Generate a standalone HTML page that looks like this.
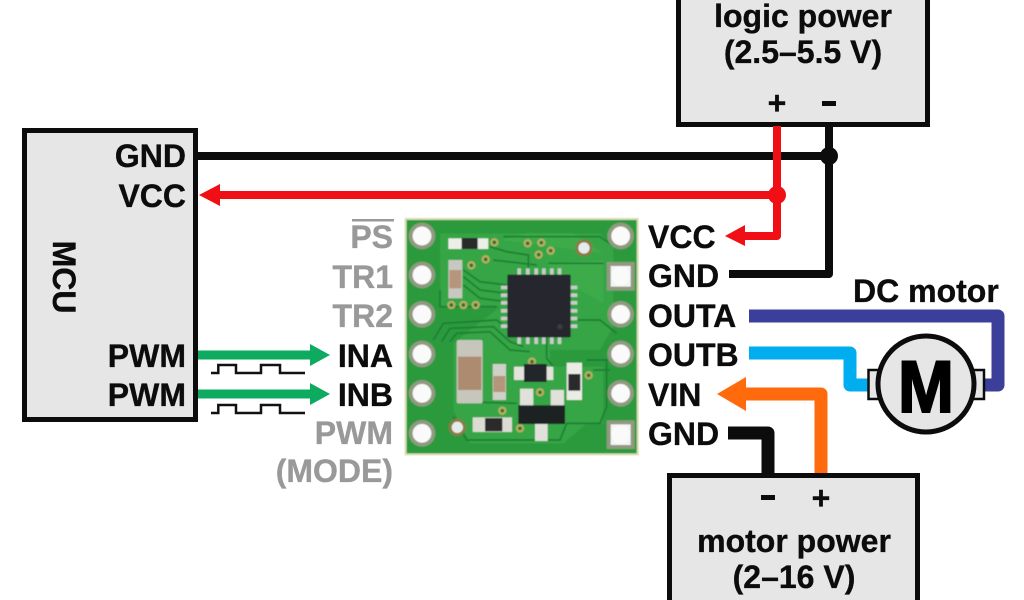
<!DOCTYPE html>
<html><head><meta charset="utf-8"><style>
html,body{margin:0;padding:0;background:#fff}
svg{display:block}
text{font-family:"Liberation Sans",sans-serif;font-weight:bold;font-size:32px;fill:#0c0c0c;stroke:#0c0c0c;stroke-width:.35px}
.g{fill:#999;stroke:#999}
.r{text-anchor:end}
.m{text-anchor:middle}
</style></head><body>
<svg width="1024" height="600" viewBox="0 0 1024 600" xmlns="http://www.w3.org/2000/svg">
<defs><filter id="b" x="-5%" y="-5%" width="110%" height="110%"><feGaussianBlur stdDeviation="1.6"/></filter></defs>
<!-- boxes -->
<rect x="24.5" y="130.5" width="171" height="289" fill="#e6e6e6" stroke="#0c0c0c" stroke-width="5"/>
<rect x="678.5" y="-20" width="249" height="144.500" fill="#e6e6e6" stroke="#0c0c0c" stroke-width="5"/>
<rect x="669.5" y="475.500" width="248" height="150" fill="#e6e6e6" stroke="#0c0c0c" stroke-width="5"/>
<!-- wires -->
<g fill="none" stroke-linejoin="round">
<path d="M198 156H829" stroke="#0c0c0c" stroke-width="8"/>
<path d="M829 126V274H729" stroke="#0c0c0c" stroke-width="8"/>
<path d="M218 195H777" stroke="#f00f14" stroke-width="8"/>
<path d="M777 126V236H743" stroke="#f00f14" stroke-width="8"/>
<path d="M198 355H312M198 394H312" stroke="#0cab60" stroke-width="9"/>
<path d="M749 316H998V385H983" stroke="#3b3f9a" stroke-width="13"/>
<path d="M749 353H850V385H868" stroke="#00aeef" stroke-width="13"/>
<path d="M743 394H821V473" stroke="#ff6a0d" stroke-width="13"/>
<path d="M728 433H768V473" stroke="#0c0c0c" stroke-width="13"/>
<path d="M211 373H218.300V365H236V373H261V365H280V373H305M211 413H218.300V405H236V413H261V405H280V413H305" stroke="#111" stroke-width="2.500" stroke-linejoin="miter"/>
</g>
<circle cx="829" cy="156" r="9" fill="#0c0c0c"/>
<circle cx="777" cy="195" r="9" fill="#f00f14"/>
<path d="M199 195L220 184V206Z" fill="#f00f14"/>
<path d="M725 236L745 225V246Z" fill="#f00f14"/>
<path d="M330 355L310 344V366Z M330 394L310 383V405Z" fill="#0cab60"/>
<path d="M717 394L746 377V411Z" fill="#ff6a0d"/>
<!-- motor -->
<rect x="868.500" y="370" width="14" height="29" fill="#e6e6e6" stroke="#0c0c0c" stroke-width="2.500"/>
<rect x="970" y="370" width="14" height="29" fill="#e6e6e6" stroke="#0c0c0c" stroke-width="2.500"/>
<circle cx="926" cy="384" r="48" fill="#e6e6e6" stroke="#0c0c0c" stroke-width="5"/>
<text transform="translate(926 412) scale(.92 1)" class="m" style="font-size:73px;fill:#000;stroke:#000;stroke-width:2px">M</text>
<!-- labels -->
<text x="186" y="167" class="r">GND</text>
<text x="186" y="207" class="r">VCC</text>
<text x="186" y="367" class="r">PWM</text>
<text x="186" y="406" class="r">PWM</text>
<text transform="translate(53 277) rotate(90)" class="m">MCU</text>
<text x="393" y="248" class="r g">PS</text>
<rect x="352" y="219" width="42" height="2.500" fill="#999"/>
<text x="393" y="288" class="r g">TR1</text>
<text x="393" y="327" class="r g">TR2</text>
<text x="393" y="367" class="r">INA</text>
<text x="393" y="406" class="r">INB</text>
<text x="393" y="444" class="r g">PWM</text>
<text x="393" y="482" class="r g">(MODE)</text>
<text x="648" y="248">VCC</text>
<text x="648" y="287">GND</text>
<text x="648" y="327">OUTA</text>
<text x="648" y="366">OUTB</text>
<text x="648" y="406">VIN</text>
<text x="648" y="445">GND</text>
<text x="853" y="302">DC motor</text>
<text x="803" y="27" class="m">logic power</text>
<text x="803" y="63" class="m">(2.5–5.5 V)</text>
<text x="777" y="114" class="m">+</text>
<rect x="822" y="101" width="14" height="5" fill="#0c0c0c"/>
<text x="794" y="552" class="m">motor power</text>
<text x="794" y="588" class="m">(2–16 V)</text>
<text x="821" y="509" class="m">+</text>
<rect x="761" y="495" width="14" height="5" fill="#0c0c0c"/>
<!-- board -->
<g transform="translate(400 210) scale(.33333)" filter="url(#b)">
<rect x="14" y="24" width="702" height="712" fill="#d8dcb4"/>
<rect x="20" y="30" width="690" height="700" fill="#2c9a3d"/>
<path d="M120 70H600L640 110V350L600 420H450V470H610V640H560L490 700H210L160 600V400L300 290H120Z" fill="#36a545"/>
<path d="M440 160L610 150V280L520 230ZM300 90L380 70H520L610 130" fill="#3cab4a"/>
<g fill="none" stroke="#1a7f33" stroke-width="5">
<path d="M190 180L240 215L320 225M190 200L240 240L320 250M190 225L240 265L320 275"/>
<path d="M100 390L130 340L290 330L340 370M125 395L150 355L280 350L330 395L370 410M150 395L170 370L270 365L330 420L390 425"/>
<path d="M270 110L320 125L385 135V190M280 150L410 165M310 80H600L650 115"/>
<path d="M440 380V445L460 470M530 330H600L650 370M445 160H610M180 575L350 580M580 480H630"/>
<path d="M560 450H620V590L600 640H500L480 690H200L160 620"/>
<path d="M120 240V290H290"/>
</g>
<!-- holes -->
<g fill="#f4f4f4" stroke="#8f9a80" stroke-width="12">
<circle cx="66" cy="78" r="34"/><circle cx="66" cy="195" r="34"/><circle cx="66" cy="313" r="34"/><circle cx="66" cy="432" r="34"/><circle cx="66" cy="550" r="34"/><circle cx="66" cy="670" r="34"/>
<circle cx="662" cy="78" r="34"/><circle cx="662" cy="313" r="34"/><circle cx="662" cy="432" r="34"/><circle cx="662" cy="550" r="34"/>
<rect x="626" y="162" width="72" height="74"/><rect x="626" y="637" width="72" height="74"/>
</g>
<g fill="#fafafa"><circle cx="66" cy="78" r="28"/><circle cx="66" cy="195" r="28"/><circle cx="66" cy="313" r="28"/><circle cx="66" cy="432" r="28"/><circle cx="66" cy="550" r="28"/><circle cx="66" cy="670" r="28"/><circle cx="662" cy="78" r="28"/><circle cx="662" cy="313" r="28"/><circle cx="662" cy="432" r="28"/><circle cx="662" cy="550" r="28"/><circle cx="662" cy="198" r="28"/><circle cx="662" cy="673" r="28"/></g>
<!-- large vias -->
<circle cx="552" cy="114" r="26" fill="#8a7a45"/><circle cx="552" cy="114" r="17" fill="#e6ecee"/>
<circle cx="172" cy="652" r="26" fill="#8a7a45"/><circle cx="172" cy="652" r="17" fill="#e6ecee"/>
<!-- small vias -->
<g fill="#2b6f35" stroke="#b9ae62" stroke-width="7">
<circle cx="283" cy="97" r="9"/><circle cx="257" cy="148" r="9"/><circle cx="214" cy="166" r="9"/><circle cx="383" cy="100" r="9"/><circle cx="424" cy="98" r="9"/><circle cx="416" cy="134" r="9"/><circle cx="452" cy="122" r="9"/><circle cx="154" cy="285" r="9"/><circle cx="190" cy="285" r="9"/><circle cx="227" cy="285" r="9"/><circle cx="566" cy="496" r="9"/><circle cx="420" cy="547" r="9"/><circle cx="307" cy="602" r="9"/><circle cx="360" cy="655" r="9"/><circle cx="396" cy="455" r="9"/>
</g>
<!-- chip -->
<g fill="#c8ccc8">
<rect x="352" y="175" width="11" height="24"/><rect x="378" y="175" width="11" height="24"/><rect x="403" y="175" width="11" height="24"/><rect x="426" y="175" width="11" height="24"/><rect x="450" y="175" width="11" height="24"/><rect x="473" y="175" width="11" height="24"/>
<rect x="352" y="378" width="11" height="24"/><rect x="378" y="378" width="11" height="24"/><rect x="403" y="378" width="11" height="24"/><rect x="426" y="378" width="11" height="24"/><rect x="450" y="378" width="11" height="24"/><rect x="473" y="378" width="11" height="24"/>
<rect x="303" y="227" width="24" height="11"/><rect x="303" y="250" width="24" height="11"/><rect x="303" y="273" width="24" height="11"/><rect x="303" y="297" width="24" height="11"/><rect x="303" y="320" width="24" height="11"/><rect x="303" y="343" width="24" height="11"/>
<rect x="508" y="227" width="24" height="11"/><rect x="508" y="250" width="24" height="11"/><rect x="508" y="273" width="24" height="11"/><rect x="508" y="297" width="24" height="11"/><rect x="508" y="320" width="24" height="11"/><rect x="508" y="343" width="24" height="11"/>
</g>
<rect x="322" y="194" width="190" height="188" rx="4" fill="#25272d"/>
<circle cx="480" cy="350" r="8" fill="#3a3c42"/>
<!-- passives -->
<rect x="145" y="85" width="120" height="32" fill="#eceee8"/><rect x="185" y="84" width="48" height="33" fill="#2a2a2a"/>
<rect x="145" y="150" width="42" height="115" fill="#c7c9c0"/><rect x="148" y="180" width="36" height="55" fill="#b5967c"/>
<rect x="170" y="390" width="78" height="190" rx="6" fill="#c6c6bd"/><rect x="174" y="440" width="70" height="100" fill="#ad8b70"/>
<rect x="278" y="462" width="40" height="108" fill="#cfd0c8"/><rect x="280" y="498" width="36" height="48" fill="#b5967c"/>
<rect x="342" y="470" width="118" height="40" fill="#e2e4dc"/><rect x="372" y="462" width="68" height="54" fill="#24262a"/>
<rect x="500" y="458" width="46" height="112" fill="#ecece6"/><rect x="505" y="492" width="36" height="50" fill="#2c2c2c"/>
<rect x="360" y="536" width="40" height="55" fill="#dfe1da"/><rect x="452" y="540" width="40" height="50" fill="#dfe1da"/><rect x="405" y="635" width="38" height="58" fill="#dfe1da"/>
<rect x="355" y="586" width="140" height="56" fill="#1e2024"/>
<rect x="218" y="622" width="118" height="44" fill="#dcdcd2"/><rect x="255" y="624" width="52" height="40" fill="#2a2a2a"/>
</g>
</svg>
</body></html>
